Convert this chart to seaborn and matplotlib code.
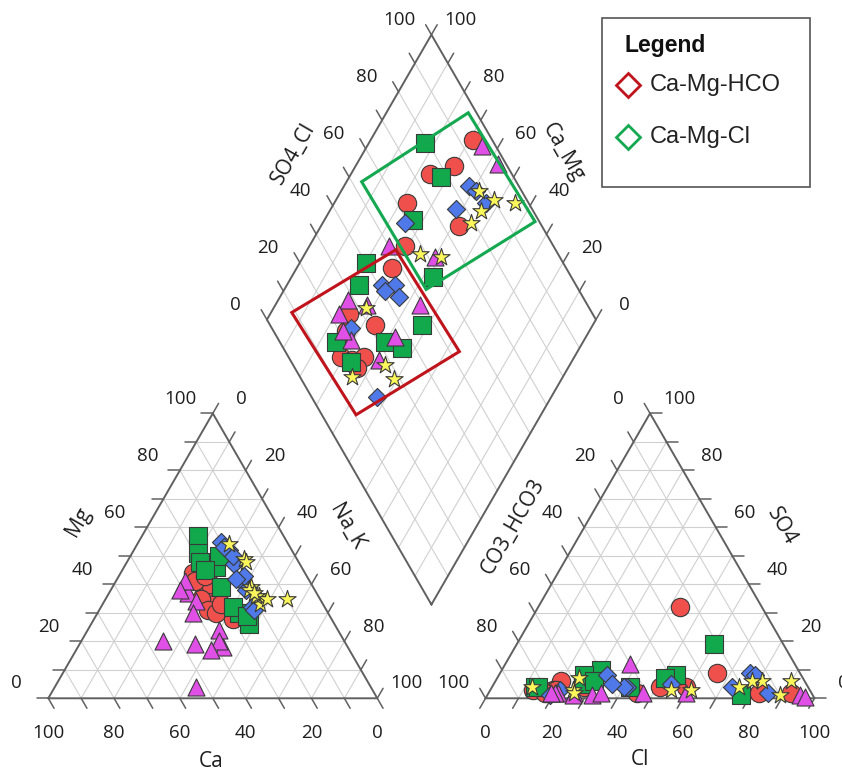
import numpy as np
import matplotlib
matplotlib.use("Agg")
import matplotlib.pyplot as plt
import seaborn as sns
from matplotlib.patches import Polygon, Rectangle

# ---- sample chemistry (% meq) ----
# cations: Mg, Na_K  (Ca = 100 - Mg - Na_K)
# anions:  SO4, Cl   (CO3_HCO3 = 100 - SO4 - Cl)
red_mg = [37, 38, 42, 44, 28, 36, 40, 41, 33, 43, 35, 31, 30, 33]
red_nak = [31, 30, 24, 22, 42, 29, 29, 24, 34, 26, 29, 33, 36, 36]
red_so4 = [2, 2, 9, 4, 32, 4, 2, 6, 4, 3, 3, 3, 3, 2]
red_cl = [92, 82, 66, 59, 43, 51, 45, 20, 28, 19, 13, 16, 20, 17]

green_mg = [57, 46, 50, 51, 48, 30, 26, 45, 32, 29, 39]
green_nak = [17, 28, 27, 20, 22, 43, 48, 25, 40, 46, 33]
green_so4 = [19, 1, 8, 10, 8, 7, 4, 4, 5, 6, 4]
green_cl = [60, 77, 54, 30, 26, 51, 42, 13, 27, 30, 14]

blue_mg = [41, 38, 32, 43, 55, 52, 47, 42, 50, 31, 53]
blue_nak = [38, 41, 46, 38, 25, 29, 33, 36, 31, 47, 27]
blue_so4 = [9, 8, 2, 4, 5, 8, 4, 4, 5, 1, 3]
blue_cl = [76, 78, 85, 73, 54, 33, 41, 40, 36, 19, 21]

pink_mg = [19, 4, 37, 24, 41, 34, 38, 18, 30, 20, 17, 20]
pink_nak = [35, 43, 24, 40, 21, 28, 21, 44, 29, 42, 41, 25]
pink_so4 = [1, 0.5, 12, 2, 2, 1, 2, 2, 2, 2, 1, 2]
pink_cl = [95, 97, 38, 60, 26, 32, 21, 47, 20, 34, 26, 19]

star_mg = [39, 33, 36, 36, 35, 49, 38, 54, 37, 35, 48]
star_nak = [42, 48, 46, 45, 55, 35, 42, 28, 44, 49, 36]
star_so4 = [6, 1, 6, 4, 6, 3, 3, 7, 3, 2, 4]
star_cl = [81, 89, 78, 75, 90, 55, 61, 25, 25, 26, 12]

# facies boxes in the diamond, corners as (SO4_Cl %, Ca_Mg %)
box_hco = [(8.8, 93.7), (51.4, 73.1), (52.9, 35.9), (10.4, 56.2)]
box_cl = [(53.0, 95.4), (97.5, 75.1), (98.7, 35.7), (53.7, 56.9)]

ticks = list(range(0, 101, 20))

GAP = 0.329
H = np.sqrt(3) / 2


def cation_xy(mg, nak):
    mg = np.asarray(mg, float) / 100
    nak = np.asarray(nak, float) / 100
    return nak + mg / 2, mg * H


def anion_xy(so4, cl):
    so4 = np.asarray(so4, float) / 100
    cl = np.asarray(cl, float) / 100
    return 1 + GAP + cl + so4 / 2, so4 * H


def diamond_xy(so4cl, camg):
    a = np.asarray(so4cl, float) / 100
    c = np.asarray(camg, float) / 100
    return 1 + GAP / 2 + (a - c) / 2, GAP * H + (a + c) * H


sns.set_style("white")
plt.rcParams["font.family"] = ["Open Sans", "DejaVu Sans"]

fig = plt.figure(figsize=(8.42, 7.71), dpi=100)
ax = fig.add_axes([0, 0, 1, 1])
ax.set_xlim(-0.1468, 2.4125)
ax.set_ylim(-0.221, 2.1225)
ax.axis("off")

grid_kw = dict(color="#d0d0d0", lw=0.8, zorder=1)
edge_kw = dict(color="#606060", lw=1.4, zorder=2)
tick_kw = dict(color="#606060", lw=1.1, zorder=2)
txt_kw = dict(fontsize=13.5, color="#1e1e1e", ha="center", va="center")
ttl_kw = dict(fontsize=15, color="#1e1e1e", ha="center", va="center")
TL = 0.035


def line(p, q, **kw):
    ax.plot([p[0], q[0]], [p[1], q[1]], **kw)


def tick(p, d, **kw):
    line(p, (p[0] + d[0] * TL, p[1] + d[1] * TL), **kw)


# ---- grids ----
for k in range(10, 100, 10):
    line(cation_xy(k, 0), cation_xy(k, 100 - k), **grid_kw)
    line(cation_xy(0, k), cation_xy(100 - k, k), **grid_kw)
    line(cation_xy(0, 100 - k), cation_xy(100 - k, 0), **grid_kw)
    line(anion_xy(k, 0), anion_xy(k, 100 - k), **grid_kw)
    line(anion_xy(0, k), anion_xy(100 - k, k), **grid_kw)
    line(anion_xy(0, 100 - k), anion_xy(100 - k, 0), **grid_kw)
    line(diamond_xy(k, 0), diamond_xy(k, 100), **grid_kw)
    line(diamond_xy(0, k), diamond_xy(100, k), **grid_kw)

# ---- outlines ----
for pts in ([cation_xy(0, 0), cation_xy(0, 100), cation_xy(100, 0)],
            [anion_xy(0, 0), anion_xy(0, 100), anion_xy(100, 0)],
            [diamond_xy(0, 0), diamond_xy(100, 0), diamond_xy(100, 100), diamond_xy(0, 100)]):
    xs = [p[0] for p in pts] + [pts[0][0]]
    ys = [p[1] for p in pts] + [pts[0][1]]
    ax.plot(xs, ys, **edge_kw)

# ---- ticks ----
for k in range(0, 101, 10):
    tick(cation_xy(k, 0), (-1, 0), **tick_kw)
    tick(cation_xy(100 - k, k), (0.5, H), **tick_kw)
    tick(cation_xy(0, 100 - k), (0.5, -H), **tick_kw)
    tick(anion_xy(k, 100 - k), (1, 0), **tick_kw)
    tick(anion_xy(100 - k, 0), (-0.5, H), **tick_kw)
    tick(anion_xy(0, k), (-0.5, -H), **tick_kw)
    tick(diamond_xy(k, 100), (-0.5, H), **tick_kw)
    tick(diamond_xy(100, k), (0.5, H), **tick_kw)

LO = (-0.097, 0.045)
RO = (0.088, 0.045)
BO = -0.106
for k in ticks:
    x, y = cation_xy(k, 0)
    ax.text(x + LO[0], y + LO[1], str(k), **txt_kw)
    x, y = cation_xy(100 - k, k)
    ax.text(x + RO[0], y + RO[1], str(k), **txt_kw)
    x, y = cation_xy(0, 100 - k)
    ax.text(x, y + BO, str(k), **txt_kw)
    x, y = anion_xy(k, 100 - k)
    ax.text(x + RO[0], y + RO[1], str(k), **txt_kw)
    x, y = anion_xy(100 - k, 0)
    ax.text(x + LO[0], y + LO[1], str(k), **txt_kw)
    x, y = anion_xy(0, k)
    ax.text(x, y + BO, str(k), **txt_kw)
    x, y = diamond_xy(k, 100)
    ax.text(x + LO[0], y + LO[1], str(k), **txt_kw)
    x, y = diamond_xy(100, k)
    ax.text(x + RO[0], y + RO[1], str(k), **txt_kw)

# axis titles
ax.text(0.4936, -0.1927, "Ca", **ttl_kw)
ax.text(0.0912, 0.5368, "Mg", rotation=60, **ttl_kw)
ax.text(0.907, 0.5216, "Na_K", rotation=-60, **ttl_kw)
ax.text(1.7985, -0.1863, "Cl", **ttl_kw)
ax.text(1.4134, 0.5216, "CO3_HCO3", rotation=60, **ttl_kw)
ax.text(2.229, 0.5216, "SO4", rotation=-60, **ttl_kw)
ax.text(0.7447, 1.6565, "SO4_Cl", rotation=60, **ttl_kw)
ax.text(1.564, 1.6605, "Ca_Mg", rotation=-60, **ttl_kw)

# ---- samples ----
groups = [
    (red_mg, red_nak, red_so4, red_cl, "o", "#f0504c", 175),
    (green_mg, green_nak, green_so4, green_cl, "s", "#12a84c", 150),
    (blue_mg, blue_nak, blue_so4, blue_cl, "D", "#4f78e8", 85),
    (pink_mg, pink_nak, pink_so4, pink_cl, "^", "#e04fe6", 150),
    (star_mg, star_nak, star_so4, star_cl, "*", "#fbf65a", 170),
]
for z, (mg, nak, so4, cl, mk, col, s) in enumerate(groups):
    pts = [cation_xy(mg, nak), anion_xy(so4, cl),
           diamond_xy(np.add(so4, cl), 100 - np.asarray(nak))]
    for x, y in pts:
        sns.scatterplot(x=x, y=y, marker=mk, color=col, s=s, edgecolor="#3a3a3a",
                        linewidth=0.8, ax=ax, zorder=3 + z, legend=False)

# facies boxes
for box, col in ((box_hco, "#c0141c"), (box_cl, "#14a850")):
    bx, by = diamond_xy([b[0] for b in box], [b[1] for b in box])
    ax.add_patch(Polygon(np.column_stack([bx, by]), closed=True, fill=False,
                         edgecolor=col, lw=2.2, zorder=10))

# ---- legend box ----
fig.patches.append(Rectangle((0.715, 0.7575), 0.247, 0.2192, transform=fig.transFigure,
                             fill=False, edgecolor="#555555", lw=1.2))
fig.text(0.742, 0.9416, "Legend", fontsize=16.5, fontweight="bold", va="center",
         family=["Liberation Sans", "DejaVu Sans"], color="#111111")
for yy, col, lab in ((0.8898, "#c0141c", "Ca-Mg-HCO"), (0.8223, "#14a850", "Ca-Mg-Cl")):
    fig.lines.append(plt.Line2D([0.7455], [yy], marker="D", ms=12, mfc="white",
                                mec=col, mew=2, transform=fig.transFigure))
    fig.text(0.772, yy, lab, fontsize=17, va="center",
             family=["Liberation Sans", "DejaVu Sans"], color="#222222")

fig.savefig("out.png", dpi=100)
